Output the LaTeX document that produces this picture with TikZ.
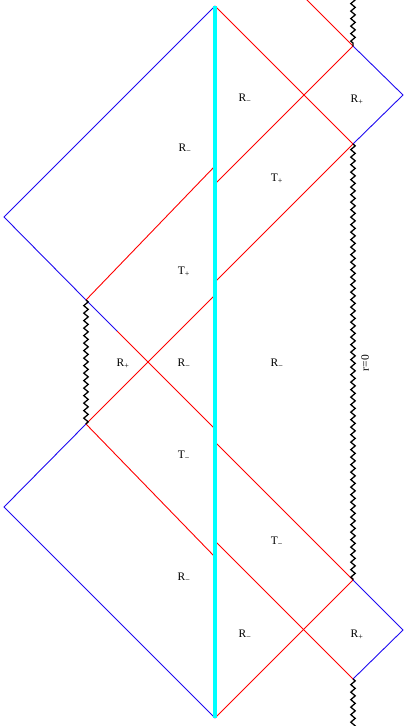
\documentclass[tikz,border=0pt]{standalone}
\usepackage{fontspec}
\setmainfont{Liberation Serif}
\usetikzlibrary{decorations.pathmorphing}
\definecolor{cutcyan}{RGB}{0,255,255}
\definecolor{bndblue}{RGB}{30,10,240}
\begin{document}
\begin{tikzpicture}[x=1pt,y=-1pt,
  redline/.style={draw=red,line width=0.9pt},
  blueline/.style={draw=bndblue,line width=0.9pt},
  sing/.style={draw=black,line width=1.3pt,decorate,decoration={zigzag,segment length=7.5pt,amplitude=2.2pt}},
  lab/.style={font=\fontsize{11.5}{13}\selectfont,inner sep=0pt}]
\useasboundingbox (0,0) rectangle (407,726);
\clip (0,0) rectangle (407,726);
% coordinates
\coordinate (top) at (215,6);
\coordinate (bot) at (215,718);
\coordinate (L1) at (4,217);
\coordinate (L2) at (4,507);
\coordinate (P1) at (86,300);
\coordinate (P2) at (86,424);
\coordinate (B1) at (117,331);
\coordinate (C1) at (215,429);
\coordinate (C2) at (215,166);
\coordinate (C3) at (215,295);
\coordinate (C4) at (215,557);
\coordinate (Q1) at (353,46);
\coordinate (Q2) at (353,144);
\coordinate (Q3) at (353,580);
\coordinate (Q4) at (353,679);
\coordinate (E1) at (403,95);
\coordinate (E2) at (403,630);
\coordinate (D1) at (215,184);
\coordinate (D2) at (215,282);
\coordinate (D3) at (215,442);
\coordinate (D4) at (215,541);
\coordinate (T0) at (301,-6);
\coordinate (ZT) at (353,-2);
\coordinate (ZB) at (353,728);
% left boundary
\draw[blueline] (top) -- (L1) -- (P1) -- (B1);
\draw[redline] (B1) -- (C1);
\draw[redline] (P1) -- (C2);
\draw[redline] (P2) -- (C3);
\draw[redline] (P2) -- (C4);
\draw[blueline] (P2) -- (L2) -- (bot);
% right side
\draw[redline] (top) -- (Q2);
\draw[redline] (D1) -- (Q1);
\draw[redline] (T0) -- (Q1);
\draw[blueline] (Q1) -- (E1) -- (Q2);
\draw[redline] (Q2) -- (D2);
\draw[redline] (D3) -- (Q3);
\draw[redline] (D4) -- (Q4);
\draw[redline] (bot) -- (Q3);
\draw[blueline] (Q3) -- (E2) -- (Q4);
% singularities
\draw[sing] (ZT) -- (Q1);
\draw[sing] (Q2) -- (Q3);
\draw[sing] (Q4) -- (ZB);
\draw[sing] (P1) -- (P2);
% cut
\draw[cutcyan,line width=4.5pt] (top) -- (bot);
% labels
\node[lab] (a1) at (185,149) {R\textsubscript{−}};
\node[lab] (a2) at (245,99) {R\textsubscript{−}};
\node[lab] (a3) at (357,100) {R\textsubscript{+}};
\node[lab] (a4) at (277,179) {T\textsubscript{+}};
\node[lab] (a5) at (184,272) {T\textsubscript{+}};
\node[lab] (a6) at (123,364) {R\textsubscript{+}};
\node[lab] (a7) at (184,364) {R\textsubscript{−}};
\node[lab] (a8) at (277,364) {R\textsubscript{−}};
\node[lab] (a9) at (184,456) {T\textsubscript{−}};
\node[lab] (a10) at (277,542) {T\textsubscript{−}};
\node[lab] (a11) at (184,578) {R\textsubscript{−}};
\node[lab] (a12) at (245,635) {R\textsubscript{−}};
\node[lab] (a13) at (357,635) {R\textsubscript{+}};
\node[lab,rotate=90] (r0) at (365,363) {r=0};
\end{tikzpicture}
\end{document}
